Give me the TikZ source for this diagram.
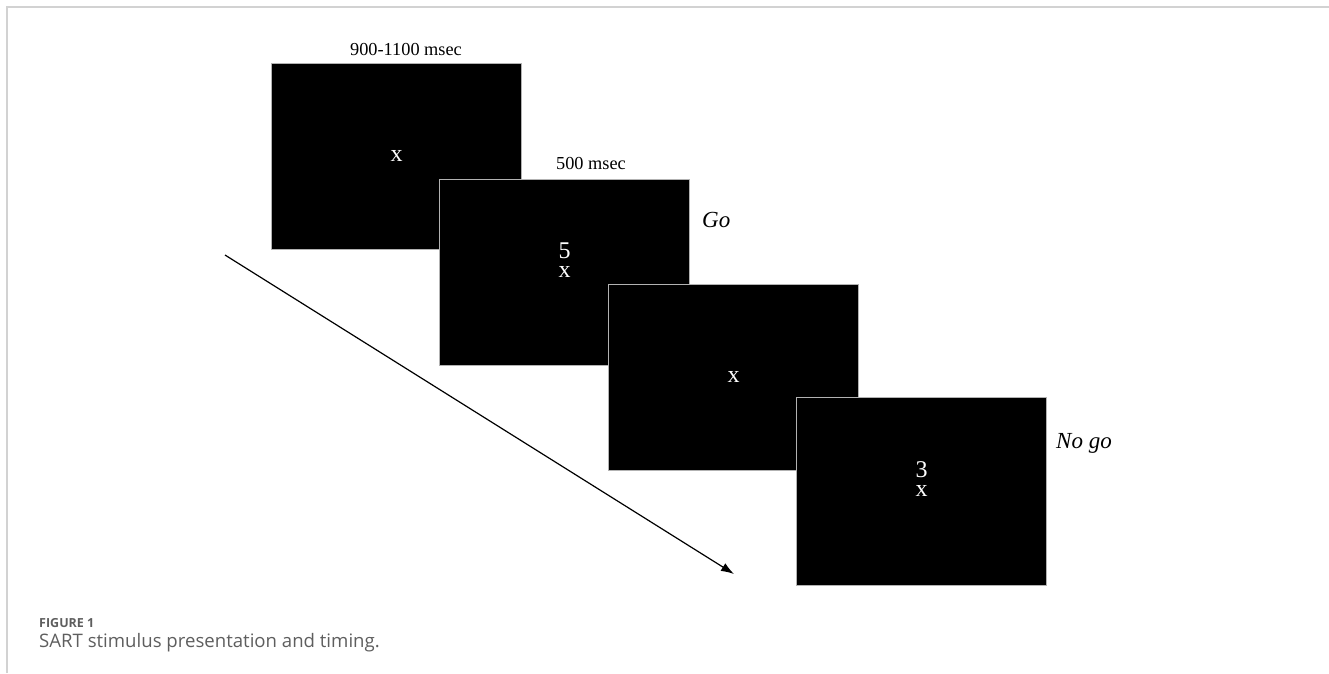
\documentclass[tikz,border=0pt]{standalone}
\usepackage{fontspec}
\setmainfont{Liberation Serif}
\newfontfamily\capfont{Open Sans}
\usetikzlibrary{arrows.meta, positioning}

\definecolor{capgray}{HTML}{5E5E5E}
\definecolor{framegray}{HTML}{D2D2D2}

\begin{document}
\begin{tikzpicture}[
    x=1pt, y=-1pt,
    screen/.style={rectangle, draw=gray!60, line width=1pt, fill=black, text=white, minimum width=250pt, minimum height=186pt, inner sep=0pt, font=\fontsize{24}{24}\selectfont},
    cue/.style={text=white, inner sep=0pt, font=\fontsize{24}{24}\selectfont},
    timing/.style={anchor=base, inner sep=0pt, font=\fontsize{18.3}{18.3}\selectfont},
    resp/.style={anchor=base west, inner sep=0pt, font=\fontsize{23}{23}\selectfont\itshape},
    timeline/.style={-{Latex[length=13pt, width=9pt]}, line width=1.2pt},
    capline/.style={anchor=base west, inner sep=0pt, text=capgray}
  ]
    \useasboundingbox (0,0) rectangle (1329,673);
    \draw[framegray, line width=1.5pt] (7,673) -- (7,7) -- (1329,7);

    % stimulus screens, back to front
    \node[screen] (s1) at (396.5,156) {x};
    \node[screen] (s2) at (564.5,272) {x};
    \node[cue, above=13pt of s2.center] (d2) {5};
    \node[screen] (s3) at (733.5,377) {x};
    \node[screen, minimum height=188pt] (s4) at (921.5,491) {x};
    \node[cue, above=13pt of s4.center] (d4) {3};

    % timing and response labels
    \node[timing] (t1) at (406,55) {900-1100 msec};
    \node[timing] (t2) at (591,169) {500 msec};
    \node[resp] (go) at (702,227) {Go};
    \node[resp] (nogo) at (1056,448) {No go};

    % time arrow
    \coordinate (a0) at (225,255);
    \coordinate (a1) at (734,574);
    \draw[timeline] (a0) -- (a1);

    % caption
    \node[capline, font=\capfont\bfseries\fontsize{12.5}{12.5}\selectfont] (fig) at (39,627) {FIGURE 1};
    \node[capline, font=\capfont\fontsize{18.6}{18.6}\selectfont] (cap) at (39,647) {SART stimulus presentation and timing.};
  \end{tikzpicture}
\end{document}
